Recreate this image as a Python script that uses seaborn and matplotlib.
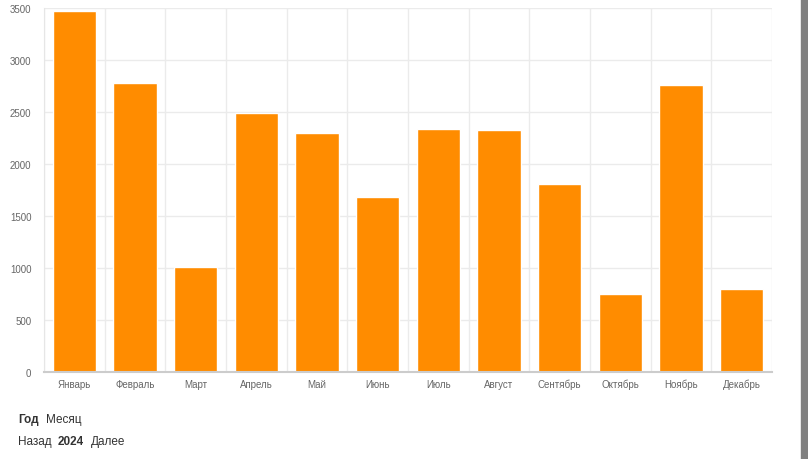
import matplotlib
matplotlib.use('Agg')
import matplotlib.pyplot as plt
import seaborn as sns
import numpy as np
import pandas as pd

months = ['Январь', 'Февраль', 'Март', 'Апрель', 'Май', 'Июнь',
          'Июль', 'Август', 'Сентябрь', 'Октябрь', 'Ноябрь', 'Декабрь']
values = [3470, 2780, 1005, 2495, 2300, 1680, 2340, 2330, 1805, 750, 2760, 800]
y_ticks = [0, 500, 1000, 1500, 2000, 2500, 3000, 3500]

df = pd.DataFrame({'month': months, 'value': values})

sns.set_style('white')
plt.rcParams['font.family'] = ['Liberation Sans', 'DejaVu Sans']

W, H = 808, 460
fig = plt.figure(figsize=(W / 100, H / 100), dpi=100)
ax = fig.add_axes([44 / W, (H - 373) / H, (772 - 44) / W, (373 - 9) / H])

sns.barplot(data=df, x='month', y='value', color='#FF8C00', saturation=1,
            width=0.71, ax=ax, zorder=3)

ax.set_xlim(-0.5, len(months) - 0.5)
ax.set_ylim(0, 3500)
ax.set_yticks(y_ticks)
ax.set_xlabel('')
ax.set_ylabel('')

# grid: horizontal at values, vertical at category boundaries
ax.set_xticks(np.arange(-0.5, len(months), 1), minor=True)
ax.grid(axis='y', which='major', color='#ebebeb', lw=1, zorder=0)
ax.grid(axis='x', which='minor', color='#ebebeb', lw=1, zorder=0)
ax.tick_params(axis='x', which='major', length=0, pad=5, labelsize=7, labelcolor='#666666')
ax.tick_params(axis='x', which='minor', length=9, color='#e6e6e6', width=1)
ax.tick_params(axis='y', which='major', length=6, color='#e0e0e0', width=1,
               labelsize=7, labelcolor='#666666', pad=3)

for s in ['top', 'right']:
    ax.spines[s].set_visible(False)
ax.spines['left'].set_color('#e6e6e6')
ax.spines['bottom'].set_color('#cccccc')
ax.spines['bottom'].set_linewidth(1.5)
ax.spines['bottom'].set_zorder(4)

# controls below the chart
def px(x, y):
    return x / W, 1 - y / H

fig.text(*px(18, 420), 'Год', fontsize=8.5, fontweight='bold', color='#333333', va='center')
fig.text(*px(46, 420), 'Месяц', fontsize=8.5, color='#333333', va='center')
fig.text(*px(18, 442), 'Назад', fontsize=8.5, color='#333333', va='center')
fig.text(*px(58, 442), '2024', fontsize=8.5, fontweight='bold', color='#333333', va='center')
fig.text(*px(91, 442), 'Далее', fontsize=8.5, color='#333333', va='center')

# scrollbar strip on the right edge
fig.patches.append(plt.Rectangle((801 / W, 0), 7 / W, 1, transform=fig.transFigure,
                                 color='#808080', zorder=5))

fig.savefig('out.png', dpi=100)
